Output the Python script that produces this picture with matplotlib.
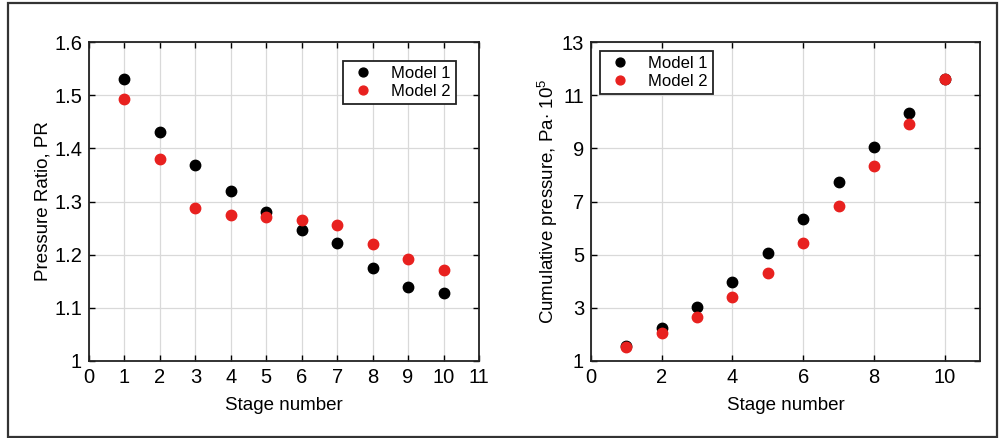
import matplotlib
matplotlib.use("Agg")
import matplotlib.pyplot as plt
from matplotlib.patches import Rectangle

plt.rcParams['font.family'] = ['Liberation Sans', 'DejaVu Sans']
plt.rcParams['mathtext.fontset'] = 'custom'
plt.rcParams['mathtext.rm'] = 'Liberation Sans'
plt.rcParams['mathtext.it'] = 'Liberation Sans:italic'

stages = [1, 2, 3, 4, 5, 6, 7, 8, 9, 10]
pr_model1 = [1.531, 1.431, 1.368, 1.320, 1.281, 1.247, 1.222, 1.174, 1.139, 1.127]
pr_model2 = [1.492, 1.379, 1.288, 1.275, 1.271, 1.266, 1.256, 1.221, 1.191, 1.171]
cp_model1 = [1.58, 2.24, 3.02, 3.97, 5.08, 6.33, 7.72, 9.05, 10.33, 11.62]
cp_model2 = [1.51, 2.07, 2.67, 3.41, 4.31, 5.45, 6.84, 8.35, 9.93, 11.62]
series_names = ["Model 1", "Model 2"]
colors = ["black", "#e8211f"]

W, H = 1002, 438
fig = plt.figure(figsize=(W / 100, H / 100), dpi=100)
fig.patch.set_facecolor("white")

# outer frame
fig.add_artist(Rectangle((8 / W, 1 - 437 / H), (997 - 8) / W, (437 - 3) / H,
                         transform=fig.transFigure, fill=False,
                         edgecolor="#333333", linewidth=1.6))

def make_ax(x0, x1, y0, y1):
    return fig.add_axes([x0 / W, 1 - y1 / H, (x1 - x0) / W, (y1 - y0) / H])

ax1 = make_ax(89, 479, 42, 361)
ax2 = make_ax(591, 980, 42, 361)

TICK_FS = 14.5
LAB_FS = 13.5

for ax in (ax1, ax2):
    ax.grid(True, color="#d9d9d9", linewidth=0.9)
    ax.set_axisbelow(True)
    ax.tick_params(direction="in", top=True, right=True, labelsize=TICK_FS,
                   length=4, width=1, pad=5)
    for s in ax.spines.values():
        s.set_linewidth(1.3)
        s.set_color("#222222")

ms = 7.5
ax1.plot(stages, pr_model1, 'o', color=colors[0], markersize=ms, label=series_names[0])
ax1.plot(stages, pr_model2, 'o', color=colors[1], markersize=ms, label=series_names[1])
ax1.set_xlim(0, 11)
ax1.set_ylim(1, 1.6)
ax1.set_xticks(range(0, 12))
ax1.set_yticks([1, 1.1, 1.2, 1.3, 1.4, 1.5, 1.6])
ax1.set_yticklabels(["1", "1.1", "1.2", "1.3", "1.4", "1.5", "1.6"])
ax1.set_xlabel("Stage number", fontsize=LAB_FS, labelpad=7)
ax1.set_ylabel("Pressure Ratio, PR", fontsize=LAB_FS, labelpad=2)

ax2.plot(stages, cp_model1, 'o', color=colors[0], markersize=ms, label=series_names[0])
ax2.plot(stages, cp_model2, 'o', color=colors[1], markersize=ms, label=series_names[1])
ax2.set_xlim(0, 11)
ax2.set_ylim(1, 13)
ax2.set_xticks(range(0, 11, 2))
ax2.set_yticks(range(1, 14, 2))
ax2.set_xlabel("Stage number", fontsize=LAB_FS, labelpad=7)
ax2.set_ylabel("Cumulative pressure, Pa$\\cdot$ 10$^5$", fontsize=LAB_FS, labelpad=1)

leg_kw = dict(fontsize=12, frameon=True, fancybox=False, framealpha=1,
              edgecolor="#222222", markerscale=0.85, handletextpad=0.8,
              borderpad=0.3, labelspacing=0.2, handlelength=1.8,
              borderaxespad=0)
l1 = ax1.legend(loc="upper right", bbox_to_anchor=(456 / W, 1 - 61 / H),
                bbox_transform=fig.transFigure, **leg_kw)
l2 = ax2.legend(loc="upper left", bbox_to_anchor=(600 / W, 1 - 51 / H),
                bbox_transform=fig.transFigure, **leg_kw)
for l in (l1, l2):
    l.get_frame().set_linewidth(1.3)

fig.savefig("out.png", dpi=100, facecolor="white")
